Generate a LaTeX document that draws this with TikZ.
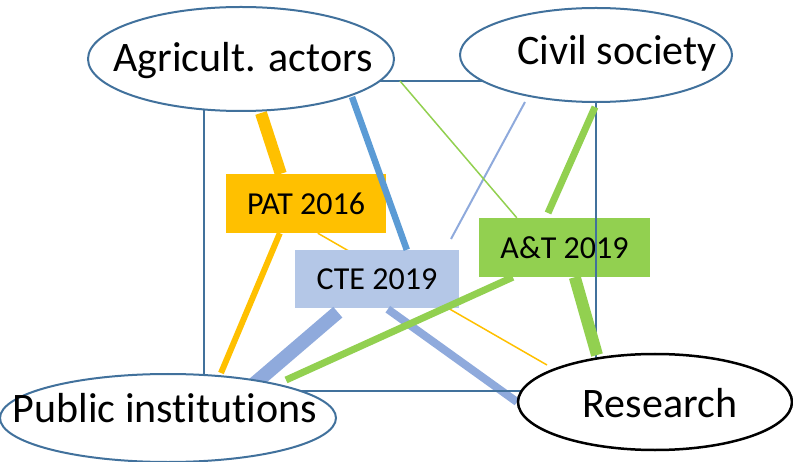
\documentclass[tikz,border=0pt]{standalone}
\usepackage{fontspec}
\setmainfont{Carlito}[Ligatures=NoCommon]
\usetikzlibrary{calc,shapes.geometric}
\definecolor{porange}{HTML}{FFC000}
\definecolor{pblue}{HTML}{5B9BD5}
\definecolor{plbox}{HTML}{B4C7E7}
\definecolor{plline}{HTML}{8FAADC}
\definecolor{pgreen}{HTML}{92D050}
\definecolor{poutline}{HTML}{41719C}
\tikzset{
  actor/.style={ellipse, draw=poutline, line width=2bp, fill=white, inner sep=0pt},
  actorlabel/.style={anchor=base, inner sep=0pt, font=\fontsize{42bp}{50bp}\selectfont},
  projbox/.style={rectangle, inner sep=0pt, font=\fontsize{32bp}{38bp}\selectfont},
  link/.style={line cap=butt}
}
\begin{document}
\begin{tikzpicture}[x=1bp,y=-1bp]
\useasboundingbox (0,0) rectangle (793,462);
% frame corners as coordinates
\coordinate (fnw) at (204,81);
\coordinate (fse) at (596,391);
% PAT box
\node[projbox, fill=porange, minimum width=160bp, minimum height=59bp] (pat) at (306,203.5) {PAT 2016};
% orange links
\draw[link, porange, line width=12bp] (261,113) coordinate (o1a) -- ($(pat.north west)+(55,0)$);
\draw[link, porange, line width=6bp] ($(pat.south west)+(54,0)$) -- (221,373) coordinate (o2b);
\draw[link, porange, line width=1.5bp] ($(pat.south west)+(92,0)$) -- (547,365) coordinate (o3b);
% CTE box
\node[projbox, fill=plbox, minimum width=164bp, minimum height=58bp] (cte) at (377,279) {CTE 2019};
% blue links
\draw[link, pblue, line width=6.5bp] (352,97) coordinate (b1a) -- ($(cte.north west)+(112,0)$);
\draw[link, plline, line width=2bp] (525,102) coordinate (b2a) -- (451,239) coordinate (b2b);
\draw[link, plline, line width=14bp] ($(cte.south west)+(43,4)$) -- (254,384) coordinate (b3b);
\draw[link, plline, line width=8bp] ($(cte.south west)+(93,1)$) -- (517,402) coordinate (b4b);
% A&T box
\node[projbox, fill=pgreen, minimum width=171bp, minimum height=59bp] (at) at (564.5,247.5) {A\&T 2019};
% frame
\draw[poutline, line width=2bp] (fnw) rectangle (fse);
% green links
\draw[link, pgreen, line width=1.5bp] (400,81) coordinate (g1a) -- ($(at.north west)+(38,0)$);
\draw[link, pgreen, line width=7bp] (595,107) coordinate (g2a) -- (548,213) coordinate (g2b);
\draw[link, pgreen, line width=12bp] ($(at.south west)+(96,0)$) -- (597,355) coordinate (g3b);
\draw[link, pgreen, line width=7bp] ($(at.south west)+(34,0)$) -- (286,380) coordinate (g4b);
% actors
\node[actor, minimum width=306bp, minimum height=104bp] (agr) at (241,59) {};
\node[actor, minimum width=272bp, minimum height=94bp] (civ) at (596,55) {};
\node[actor, minimum width=336bp, minimum height=88bp] (pub) at (168,418) {};
\node[actor, draw=black, line width=2.5bp, minimum width=274bp, minimum height=96bp] (res) at (655,402) {};
\node[actorlabel] (agrtxt) at (243,72) {Agricult. actors};
\node[actorlabel] (civtxt) at (617,65) {Civil society};
\node[actorlabel] (pubtxt) at (165,422) {Public institutions};
\node[actorlabel] (restxt) at (660,417) {Research};
\end{tikzpicture}
\end{document}
